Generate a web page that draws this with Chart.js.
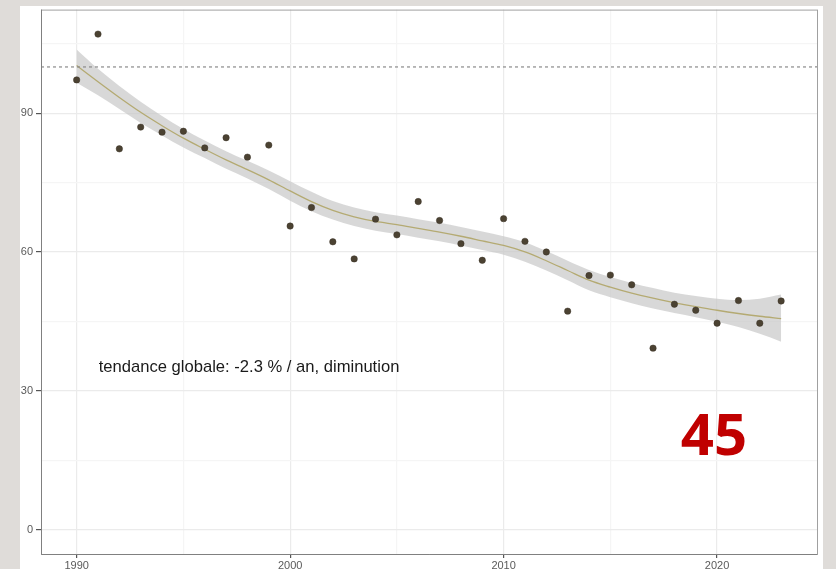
<!DOCTYPE html>
<html>
<head>
<meta charset="utf-8">
<script src="https://cdn.jsdelivr.net/npm/chart.js@4"></script>
<style>
    html, body { margin: 0; padding: 0; background: #dfdcd9; }
    #wrap { position: absolute; left: 0; top: 0; width: 836px; height: 569px; }
</style>
</head>
<body>
<div id="wrap"><canvas id="graphique" width="836" height="569"></canvas></div>
<script>
// données
const annees = [1990, 1991, 1992, 1993, 1994, 1995, 1996, 1997, 1998, 1999,
    2000, 2001, 2002, 2003, 2004, 2005, 2006, 2007, 2008, 2009,
    2010, 2011, 2012, 2013, 2014, 2015, 2016, 2017, 2018, 2019,
    2020, 2021, 2022, 2023];
const valeurs = [97.2, 107.1, 82.3, 87.0, 85.9, 86.1, 82.5, 84.7, 80.5, 83.1,
    65.6, 69.6, 62.2, 58.5, 67.1, 63.7, 70.9, 66.8, 61.8, 58.2,
    67.2, 62.3, 60.0, 47.2, 54.9, 55.0, 52.9, 39.2, 48.7, 47.4,
    44.6, 49.5, 44.6, 49.4];
const tendance = [100.3, 96.8, 93.4, 90.2, 87.3, 84.6, 82.2, 79.9, 77.8, 75.6,
    73.2, 70.9, 69.0, 67.6, 66.6, 65.9, 65.1, 64.3, 63.4, 62.4,
    61.4, 60.0, 58.1, 56.0, 53.9, 52.4, 51.1, 50.0, 49.0, 48.2,
    47.4, 46.7, 46.1, 45.6];
const bandeHaute = [103.8, 99.6, 95.9, 92.5, 89.4, 86.6, 84.1, 81.8, 79.7, 77.6,
    75.3, 73.0, 71.0, 69.6, 68.6, 67.9, 67.1, 66.3, 65.4, 64.4,
    63.4, 62.1, 60.2, 58.1, 56.1, 54.6, 53.3, 52.2, 51.2, 50.5,
    49.9, 49.6, 49.9, 50.8];
const bandeBasse = [96.6, 93.9, 90.9, 87.9, 85.2, 82.6, 80.3, 78.0, 75.9, 73.6,
    71.1, 68.8, 67.0, 65.6, 64.6, 63.9, 63.1, 62.3, 61.4, 60.4,
    59.4, 57.9, 56.0, 53.9, 51.7, 50.2, 48.9, 47.8, 46.8, 45.9,
    44.9, 43.8, 42.3, 40.6];
const ticksX = [1990, 1995, 2000, 2005, 2010, 2015, 2020];
const ticksY = [0, 15, 30, 45, 60, 75, 90, 105];
const reference = 100;
const texteTendance = "tendance globale: -2.3 % / an, diminution";
const numeroPage = "45";

const xMin = 1988.33;
const xMax = 2024.68;

function pontos(ys) {
    return annees.map((a, i) => ({ x: a, y: ys[i] }));
}

const fondPlugin = {
    id: "fond",
    beforeDraw(chart) {
        const ctx = chart.ctx;
        ctx.save();
        ctx.fillStyle = "#ffffff";
        ctx.fillRect(20, 6, 803, 563);
        ctx.restore();
    },
    afterDraw(chart) {
        const ctx = chart.ctx;
        const a = chart.chartArea;
        ctx.save();
        ctx.strokeStyle = "#a0a0a0";
        ctx.lineWidth = 1;
        ctx.strokeRect(a.left + 0.5, a.top + 0.5, a.right - a.left, a.bottom - a.top);
        ctx.strokeStyle = "#808080";
        ctx.beginPath();
        ctx.moveTo(a.left + 0.5, a.top);
        ctx.lineTo(a.left + 0.5, a.bottom + 0.5);
        ctx.lineTo(a.right, a.bottom + 0.5);
        ctx.stroke();

        const sx = chart.scales.x;
        const sy = chart.scales.y;
        ctx.fillStyle = "#1a1a1a";
        ctx.font = "16.6px 'Liberation Sans', Arial, sans-serif";
        ctx.textAlign = "left";
        ctx.textBaseline = "middle";
        ctx.fillText(texteTendance, sx.getPixelForValue(1991.03), sy.getPixelForValue(35));

        ctx.fillStyle = "#c00000";
        ctx.font = "bold 58px 'Open Sans', 'Noto Sans', sans-serif";
        ctx.textAlign = "center";
        ctx.textBaseline = "middle";
        ctx.fillText(numeroPage, 714, 438);
        ctx.restore();
    },
};

const ctx = document.getElementById("graphique").getContext("2d");
new Chart(ctx, {
    type: "scatter",
    data: {
        datasets: [
            {
                label: "points",
                data: pontos(valeurs),
                pointRadius: 3.2,
                pointBackgroundColor: "#4b4232",
                pointBorderColor: "#3a3226",
                pointBorderWidth: 0.5,
                showLine: false,
                order: 0,
            },
            {
                label: "reference",
                data: [{ x: xMin, y: reference }, { x: xMax, y: reference }],
                showLine: true,
                borderColor: "#8a8a8a",
                borderWidth: 1.2,
                borderDash: [3, 3],
                pointRadius: 0,
                order: 1,
            },
            {
                label: "tendance",
                data: pontos(tendance),
                showLine: true,
                borderColor: "#b4aa72",
                borderWidth: 1.3,
                pointRadius: 0,
                cubicInterpolationMode: "monotone",
                order: 2,
            },
            {
                label: "haut",
                data: pontos(bandeHaute),
                showLine: true,
                borderWidth: 0,
                borderColor: "rgba(0,0,0,0)",
                backgroundColor: "rgba(200,200,200,0.7)",
                fill: "+1",
                pointRadius: 0,
                cubicInterpolationMode: "monotone",
                order: 3,
            },
            {
                label: "bas",
                data: pontos(bandeBasse),
                showLine: true,
                borderWidth: 0,
                borderColor: "rgba(0,0,0,0)",
                pointRadius: 0,
                cubicInterpolationMode: "monotone",
                order: 4,
            },
        ],
    },
    options: {
        responsive: false,
        animation: false,
        layout: { padding: { top: 7, right: 19, left: 0, bottom: 0 } },
        plugins: {
            legend: { display: false },
            tooltip: { enabled: false },
        },
        scales: {
            x: {
                type: "linear",
                min: xMin,
                max: xMax,
                afterBuildTicks: (scale) => {
                    scale.ticks = ticksX.map((v) => ({ value: v }));
                },
                afterFit: (scale) => {
                    scale.height = 15;
                },
                ticks: {
                    color: "#5a5a5a",
                    font: { family: "'Liberation Sans', Arial, sans-serif", size: 11 },
                    padding: 1,
                    maxRotation: 0,
                    callback: (v) => (v % 10 === 0 ? String(v) : ""),
                },
                grid: {
                    color: (c) => (c.tick && c.tick.value % 10 === 0 ? "#ebebeb" : "#f5f5f5"),
                    tickColor: (c) => (c.tick && c.tick.value % 10 === 0 ? "#555555" : "rgba(0,0,0,0)"),
                    tickLength: 4,
                    lineWidth: 1.2,
                },
                border: { display: false },
            },
            y: {
                type: "linear",
                min: -5.3,
                max: 112.4,
                afterBuildTicks: (scale) => {
                    scale.ticks = ticksY.map((v) => ({ value: v }));
                },
                afterFit: (scale) => {
                    scale.width = 41;
                },
                ticks: {
                    color: "#5a5a5a",
                    font: { family: "'Liberation Sans', Arial, sans-serif", size: 11 },
                    padding: 3,
                    callback: (v) => (v % 30 === 0 ? String(v) : ""),
                },
                grid: {
                    color: (c) => (c.tick && c.tick.value % 30 === 0 ? "#ebebeb" : "#f5f5f5"),
                    tickColor: (c) => (c.tick && c.tick.value % 30 === 0 ? "#555555" : "rgba(0,0,0,0)"),
                    tickLength: 5,
                    lineWidth: 1.2,
                },
                border: { display: false },
            },
        },
    },
    plugins: [fondPlugin],
});
</script>
</body>
</html>
